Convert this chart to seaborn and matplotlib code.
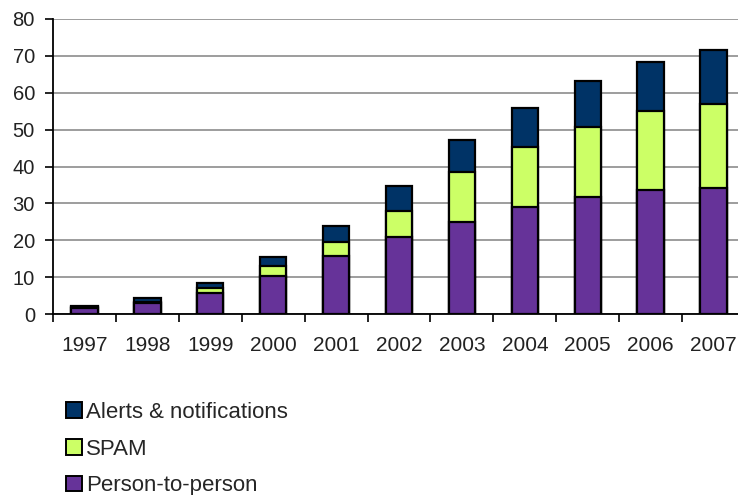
"""Stacked bars: message volume by type, 1997-2007."""

import matplotlib

matplotlib.use("Agg")
import matplotlib.pyplot as plt
import numpy as np
import pandas as pd
import seaborn as sns
from matplotlib.patches import Patch

years = ["1997", "1998", "1999", "2000", "2001", "2002", "2003", "2004", "2005", "2006", "2007"]
person = [1.6, 2.9, 5.6, 10.3, 15.7, 20.8, 24.9, 28.9, 31.6, 33.6, 34.3]
spam = [0.2, 0.3, 1.4, 2.7, 3.8, 7.2, 13.5, 16.5, 19.2, 21.4, 22.6]
alerts = [0.4, 1.2, 1.3, 2.4, 4.3, 6.7, 8.8, 10.5, 12.4, 13.3, 14.8]

series = ["Alerts & notifications", "SPAM", "Person-to-person"]
colors = {"Alerts & notifications": "#003366", "SPAM": "#ccff66", "Person-to-person": "#663399"}

df = pd.DataFrame({"year": years, "person": person, "spam": spam, "alerts": alerts})
df["top_spam"] = df["person"] + df["spam"]
df["top_alerts"] = df["top_spam"] + df["alerts"]

sns.set_style("white")
plt.rcParams["font.family"] = ["Liberation Sans", "DejaVu Sans"]

fig = plt.figure(figsize=(7.38, 4.95), dpi=100)
ax = fig.add_axes([53 / 738, 181 / 495, 692 / 738, 295 / 495])

bar_kw = dict(width=0.42, edgecolor="black", linewidth=1.6, saturation=1, ax=ax, zorder=3)
sns.barplot(data=df, x="year", y="top_alerts", color=colors["Alerts & notifications"], **bar_kw)
sns.barplot(data=df, x="year", y="top_spam", color=colors["SPAM"], **bar_kw)
sns.barplot(data=df, x="year", y="person", color=colors["Person-to-person"], **bar_kw)

ax.set_ylim(0, 80)
ax.set_xlim(-0.5, len(years) - 0.5)
ax.set_yticks(np.arange(0, 81, 10))
ax.yaxis.grid(True, color="#8c8c8c", linewidth=1.2, zorder=0)
ax.set_axisbelow(True)
ax.set_xlabel("")
ax.set_ylabel("")

for side in ["top", "right"]:
    ax.spines[side].set_visible(False)
for side in ["left", "bottom"]:
    ax.spines[side].set_color("black")
    ax.spines[side].set_linewidth(1.3)

ax.tick_params(axis="y", length=6, width=1.2, color="black", direction="out", left=True,
               labelsize=14.5, pad=7, labelcolor="#222222")
ax.tick_params(axis="x", which="major", length=0, labelsize=15, pad=16, labelcolor="#222222")
ax.set_xticks(np.arange(-0.5, len(years), 1), minor=True)
ax.tick_params(axis="x", which="minor", length=6, width=1.2, color="black", direction="out", bottom=True)

handles = [Patch(facecolor=colors[s], edgecolor="black", linewidth=1.4) for s in series]
fig.legend(handles, series, loc="upper left", bbox_to_anchor=(66 / 738, 1 - 402 / 495),
           frameon=False, fontsize=16, handlelength=0.7, handleheight=0.7,
           handletextpad=0.2, labelspacing=0.7, borderpad=0, borderaxespad=0)

fig.savefig("out.png", dpi=100)
plt.close("all")
